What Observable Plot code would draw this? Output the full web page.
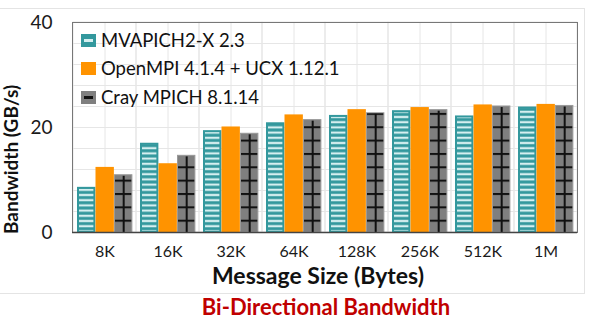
<!DOCTYPE html>
<html>
<head>
<meta charset="utf-8">
<script src="https://cdn.jsdelivr.net/npm/d3@7"></script>
<script src="https://cdn.jsdelivr.net/npm/@observablehq/plot@0.6"></script>
<style>
  body { margin: 0; background: #fff; }
  #wrap { position: relative; width: 597px; height: 324px; overflow: hidden; font-family: Lato, "Open Sans", sans-serif; }
  #wrap svg { position: absolute; left: 0; top: 0; }
  .ov { position: absolute; white-space: nowrap; line-height: 1; }
  .panel { position: absolute; left: -2px; top: 8px; width: 586px; height: 284px; border: 1px solid #e4e4e4; border-left: none; }
  .ylab { font-weight: 700; font-size: 19px; color: #111; transform-origin: 0 0; }
  .xlab { font-weight: 700; font-size: 23px; color: #111; transform: translateX(-50%); }
  .title { font-weight: 700; font-size: 22px; color: #c00000; transform: translateX(-50%); }
  .leg { position: absolute; left: 81px; font-size: 18.5px; color: #111; display: flex; align-items: center; height: 20px; }
  .sw { width: 15px; height: 13px; margin-right: 5px; box-sizing: border-box; position: relative; }
</style>
</head>
<body>
<div id="wrap"></div>
<script>
const sizes = ["8K", "16K", "32K", "64K", "128K", "256K", "512K", "1M"];
const seriesNames = ["MVAPICH2-X 2.3", "OpenMPI 4.1.4 + UCX 1.12.1", "Cray MPICH 8.1.14"];
const mvapich = [8.6, 17.0, 19.4, 20.9, 22.3, 23.2, 22.2, 23.9];
const openmpi = [12.4, 13.1, 20.1, 22.4, 23.4, 23.8, 24.3, 24.4];
const cray = [11.0, 14.7, 18.9, 21.5, 22.8, 23.4, 24.1, 24.2];
const yTicks = [0, 20, 40];
const yGrid = d3.range(0, 41, 4);

const teal = "#33989d";
const orange = "#ff9300";
const gray = "#7f7f7f";

const rows = (vals) => sizes.map((s, i) => ({size: s, value: vals[i]}));
const mvRows = rows(mvapich), ompiRows = rows(openmpi), crayRows = rows(cray);

const W = 597, H = 324;
const mL = 72, mR = 20, mT = 22, mB = 92;
const band = (W - mL - mR) / sizes.length;
const barW = 18.5, lead = 4;
const inL = (i) => lead + i * barW;
const inR = (i) => band - lead - (i + 1) * barW;

const chart = Plot.plot({
  width: W, height: H,
  marginLeft: mL, marginRight: mR, marginTop: mT, marginBottom: mB,
  style: {fontFamily: "Lato, 'Open Sans', sans-serif", color: "#1a1a1a", background: "transparent"},
  x: {domain: sizes, padding: 0, label: null, tickSize: 0, tickPadding: 13},
  y: {domain: [0, 40], label: null, ticks: yTicks, tickSize: 0, tickPadding: 20},
  marks: [
    Plot.ruleY(yGrid, {stroke: "#e6e6e6", strokeWidth: 1}),
    Plot.ruleX(sizes, {stroke: "#e6e6e6", strokeWidth: 1}),
    Plot.barY(sizes, {x: d => d, y1: 0, y2: 40, fill: "none", stroke: "#e6e6e6", strokeWidth: 1}),
    Plot.barY(mvRows, {x: "size", y: "value", fill: "url(#mvpat)", stroke: teal, strokeWidth: 2, insetLeft: inL(0) + 1, insetRight: inR(0) + 1, insetTop: 1}),
    Plot.barY(ompiRows, {x: "size", y: "value", fill: orange, insetLeft: inL(1), insetRight: inR(1)}),
    Plot.barY(crayRows, {x: "size", y: "value", fill: "url(#craypat)", stroke: "#999", strokeWidth: 1, insetLeft: inL(2) + 0.5, insetRight: inR(2) + 0.5, insetTop: 0.5}),
    Plot.ruleX(crayRows, {x: "size", y1: 0, y2: d => d.value - 0.3, dx: inL(2) + barW / 2 - band / 2, stroke: "#111", strokeWidth: 2}),
    Plot.frame({stroke: "#777", strokeWidth: 1}),
    Plot.ruleY([0], {stroke: "#444", strokeWidth: 1.5})
  ]
});

const svg = d3.select(chart);
const defs = svg.insert("defs", ":first-child");
const mv = defs.append("pattern").attr("id", "mvpat").attr("patternUnits", "userSpaceOnUse")
  .attr("width", 8).attr("height", 5.2).attr("y", 0);
mv.append("rect").attr("width", 8).attr("height", 5.2).attr("fill", teal);
mv.append("rect").attr("y", 1.5).attr("width", 8).attr("height", 2.2).attr("fill", "#d5eff0");
const cp = defs.append("pattern").attr("id", "craypat").attr("patternUnits", "userSpaceOnUse")
  .attr("width", 8).attr("height", 13.35).attr("y", 219.7);
cp.append("rect").attr("width", 8).attr("height", 13.35).attr("fill", gray);
cp.append("rect").attr("y", 0).attr("width", 8).attr("height", 2).attr("fill", "#111");

svg.selectAll('g[aria-label="x-axis tick label"] text, g[aria-label="x-axis"] text').style("font-size", "16px");
svg.selectAll('g[aria-label="y-axis tick label"] text, g[aria-label="y-axis"] text').style("font-size", "19px");

const wrap = document.getElementById("wrap");
const panel = document.createElement("div");
panel.className = "panel";
wrap.appendChild(panel);
wrap.appendChild(chart);

function addText(cls, txt, left, top, extra) {
  const d = document.createElement("div");
  d.className = "ov " + cls;
  d.textContent = txt;
  d.style.left = left + "px";
  d.style.top = top + "px";
  if (extra) Object.assign(d.style, extra);
  wrap.appendChild(d);
  return d;
}
addText("ylab", "Bandwidth (GB/s)", 1, 234, {transform: "rotate(-90deg)"});
addText("xlab", "Message Size (Bytes)", 318, 264);
addText("title", "Bi-Directional Bandwidth", 326, 296);

const legY = [30, 58, 87];
seriesNames.forEach((name, i) => {
  const row = document.createElement("div");
  row.className = "leg";
  row.style.top = legY[i] + "px";
  const sw = document.createElement("div");
  sw.className = "sw";
  sw.style.background = i === 0 ? teal : i === 1 ? orange : gray;
  if (i !== 1) {
    const inner = document.createElement("div");
    inner.style.cssText = `position:absolute;left:3px;right:3px;top:5px;height:3px;background:${i === 0 ? "#d5eff0" : "#111"}`;
    sw.appendChild(inner);
  }
  row.appendChild(sw);
  const t = document.createElement("span");
  t.textContent = name;
  row.appendChild(t);
  wrap.appendChild(row);
});
</script>
</body>
</html>
